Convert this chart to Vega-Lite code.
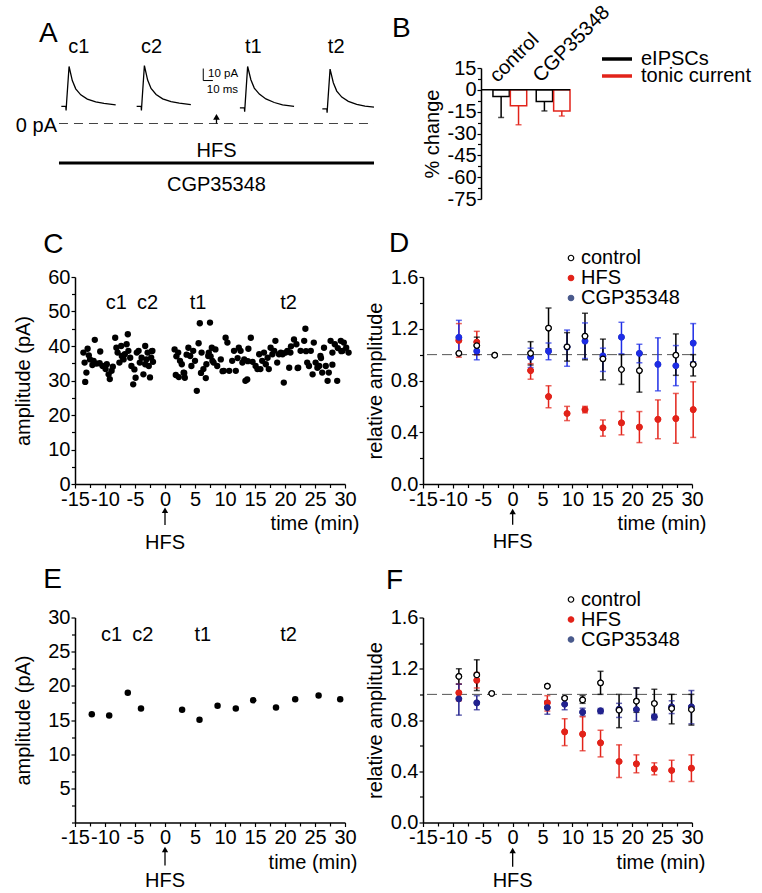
{
  "background": "white",
  "padding": {"left": 13, "top": 2, "right": 0, "bottom": 0},
  "config": {
    "font": "Liberation Sans",
    "view": {"stroke": null},
    "axis": {"labelFontSize": 20, "titleFontSize": 20, "titleFontWeight": "normal", "labelColor": "black", "titleColor": "black", "domainColor": "black", "tickColor": "black", "tickSize": 4, "domainWidth": 1.5, "tickWidth": 1.2, "grid": false, "labelPadding": 1, "labelOverlap": false, "labelFlush": false},
    "legend": {"labelFontSize": 20, "labelColor": "black"},
    "text": {"fontSize": 20, "color": "black"}
  },
  "spacing": 21,
  "vconcat": [
    {
      "bounds": "flush",
      "spacing": 107,
      "resolve": {"scale": {"stroke": "independent", "color": "independent"}, "legend": {"stroke": "independent", "color": "independent"}},
      "hconcat": [
        {
          "width": 299,
          "height": 131,
          "layer": [
            {
              "data": {"values": [
                {"trace": "c1", "ms": 2.6, "pA": 14.2}, {"trace": "c1", "ms": 7.6, "pA": 14.2}, {"trace": "c1", "ms": 7.9, "pA": 10.8}, {"trace": "c1", "ms": 8.6, "pA": 19.2}, {"trace": "c1", "ms": 11.2, "pA": 47.5}, {"trace": "c1", "ms": 14.8, "pA": 35.8}, {"trace": "c1", "ms": 18.6, "pA": 28.9}, {"trace": "c1", "ms": 24.2, "pA": 23.9}, {"trace": "c1", "ms": 31.5, "pA": 20.3}, {"trace": "c1", "ms": 40.8, "pA": 18.1}, {"trace": "c1", "ms": 50, "pA": 16.7}, {"trace": "c1", "ms": 63, "pA": 15.6},
                {"trace": "c2", "ms": 86.3, "pA": 14.2}, {"trace": "c2", "ms": 91.3, "pA": 14.2}, {"trace": "c2", "ms": 91.6, "pA": 10.8}, {"trace": "c2", "ms": 92.3, "pA": 19.2}, {"trace": "c2", "ms": 94.9, "pA": 48.3}, {"trace": "c2", "ms": 98.5, "pA": 36.2}, {"trace": "c2", "ms": 102.3, "pA": 29.2}, {"trace": "c2", "ms": 107.9, "pA": 24.2}, {"trace": "c2", "ms": 115.2, "pA": 20.5}, {"trace": "c2", "ms": 124.5, "pA": 18.2}, {"trace": "c2", "ms": 133.7, "pA": 16.9}, {"trace": "c2", "ms": 146.5, "pA": 15.8},
                {"trace": "t1", "ms": 201, "pA": 13.1}, {"trace": "t1", "ms": 206, "pA": 13.1}, {"trace": "t1", "ms": 206.3, "pA": 9.8}, {"trace": "t1", "ms": 207, "pA": 18}, {"trace": "t1", "ms": 209.6, "pA": 47.5}, {"trace": "t1", "ms": 213.2, "pA": 36.5}, {"trace": "t1", "ms": 217, "pA": 29.5}, {"trace": "t1", "ms": 222.6, "pA": 24.5}, {"trace": "t1", "ms": 229.9, "pA": 20.5}, {"trace": "t1", "ms": 239.2, "pA": 17.5}, {"trace": "t1", "ms": 248.4, "pA": 15.5}, {"trace": "t1", "ms": 261.2, "pA": 14.2},
                {"trace": "t2", "ms": 292.6, "pA": 12.2}, {"trace": "t2", "ms": 297.6, "pA": 12.2}, {"trace": "t2", "ms": 297.9, "pA": 9}, {"trace": "t2", "ms": 298.6, "pA": 17}, {"trace": "t2", "ms": 301.2, "pA": 45.3}, {"trace": "t2", "ms": 304.8, "pA": 34}, {"trace": "t2", "ms": 308.6, "pA": 27}, {"trace": "t2", "ms": 314.2, "pA": 22}, {"trace": "t2", "ms": 321.5, "pA": 18.5}, {"trace": "t2", "ms": 330.8, "pA": 16}, {"trace": "t2", "ms": 340, "pA": 14.5}, {"trace": "t2", "ms": 350, "pA": 13.6}
              ]},
              "mark": {"type": "line", "color": "black", "strokeWidth": 1.3},
              "encoding": {
                "x": {"field": "ms", "type": "quantitative", "scale": {"domain": [17.8, 350], "nice": false, "zero": false}, "axis": null},
                "y": {"field": "pA", "type": "quantitative", "scale": {"domain": [-62.9, 46.25], "nice": false, "zero": false}, "axis": null},
                "detail": {"field": "trace"}
              }
            },
            {
              "data": {"values": [{}]},
              "mark": {"type": "rule", "strokeDash": [9, 6], "strokeWidth": 1, "color": "#444"},
              "encoding": {"x": {"datum": 0}, "x2": {"datum": 350}, "y": {"datum": 0}}
            },
            {
              "data": {"values": [{}]},
              "mark": {"type": "text", "text": "0 pA", "align": "right", "baseline": "middle", "dx": -2, "dy": 2},
              "encoding": {"x": {"datum": 0}, "y": {"datum": 0}}
            },
            {
              "data": {"values": [{}]},
              "mark": {"type": "rule", "strokeWidth": 1.3, "color": "black"},
              "encoding": {"x": {"datum": 175}, "y": {"datum": 0}, "y2": {"datum": 5.5}}
            },
            {
              "data": {"values": [{}]},
              "mark": {"type": "point", "shape": "triangle-up", "filled": true, "size": 45, "color": "black", "opacity": 1},
              "encoding": {"x": {"datum": 175}, "y": {"datum": 5.5}}
            },
            {
              "data": {"values": [{}]},
              "mark": {"type": "text", "text": "HFS", "align": "center", "baseline": "middle"},
              "encoding": {"x": {"datum": 175}, "y": {"datum": -22.5}}
            },
            {
              "data": {"values": [{}]},
              "mark": {"type": "rule", "strokeWidth": 3, "color": "black"},
              "encoding": {"x": {"datum": 0}, "x2": {"datum": 350}, "y": {"datum": -33}}
            },
            {
              "data": {"values": [{}]},
              "mark": {"type": "text", "text": "CGP35348", "align": "center", "baseline": "middle"},
              "encoding": {"x": {"datum": 175}, "y": {"datum": -51.5}}
            },
            {
              "data": {"values": [{"label": "c1", "ms": 22}, {"label": "c2", "ms": 103}, {"label": "t1", "ms": 216}, {"label": "t2", "ms": 308}]},
              "mark": {"type": "text", "align": "center", "baseline": "middle"},
              "encoding": {"x": {"field": "ms", "type": "quantitative"}, "y": {"datum": 64}, "text": {"field": "label"}}
            },
            {
              "data": {"values": [{}]},
              "mark": {"type": "rule", "strokeWidth": 1, "color": "black"},
              "encoding": {"x": {"datum": 160.3}, "y": {"datum": 35.8}, "y2": {"datum": 45.8}}
            },
            {
              "data": {"values": [{}]},
              "mark": {"type": "rule", "strokeWidth": 1, "color": "black"},
              "encoding": {"x": {"datum": 160.3}, "x2": {"datum": 171}, "y": {"datum": 35.8}}
            },
            {
              "data": {"values": [{}]},
              "mark": {"type": "text", "text": "10 pA", "align": "left", "baseline": "middle", "fontSize": 11.5},
              "encoding": {"x": {"datum": 165.6}, "y": {"datum": 41.5}}
            },
            {
              "data": {"values": [{}]},
              "mark": {"type": "text", "text": "10 ms", "align": "right", "baseline": "middle", "fontSize": 11.5},
              "encoding": {"x": {"datum": 199}, "y": {"datum": 28}}
            },
            {
              "data": {"values": [{}]},
              "mark": {"type": "text", "text": "A", "align": "left", "baseline": "alphabetic", "fontSize": 28},
              "encoding": {"x": {"datum": -22.2}, "y": {"datum": 67.5}}
            }
          ]
        },
        {
          "width": 89,
          "height": 131,
          "title": {"text": "B", "anchor": "start", "frame": "group", "fontSize": 28, "fontWeight": "normal", "color": "black", "dx": -89, "offset": -63, "baseline": "alphabetic"},
          "resolve": {"axis": {"y": "independent"}},
          "layer": [
            {
              "layer": [
                {
                  "data": {"values": [
                    {"group": "control", "type": "eIPSCs", "value": -4.5, "lower": -19},
                    {"group": "control", "type": "tonic current", "value": -11, "lower": -24},
                    {"group": "CGP35348", "type": "eIPSCs", "value": -8, "lower": -14.5},
                    {"group": "CGP35348", "type": "tonic current", "value": -14.5, "lower": -18}
                  ]},
                  "resolve": {"scale": {"stroke": "independent"}, "legend": {"stroke": "independent"}},
                  "layer": [
                    {
                      "mark": {"type": "bar", "fill": "white", "strokeWidth": 1.5},
                      "encoding": {
                        "x": {"field": "group", "type": "nominal", "sort": ["control", "CGP35348"], "scale": {"paddingInner": 0.22, "paddingOuter": 0.138, "align": 1}, "axis": null},
                        "xOffset": {"field": "type", "type": "nominal", "sort": ["eIPSCs", "tonic current"], "scale": {"paddingInner": 0.06}},
                        "y": {"field": "value", "type": "quantitative", "scale": {"domain": [-75, 15], "nice": false}, "axis": {"values": [-75, -60, -45, -30, -15, 0, 15], "tickCount": 100, "labelExpr": "toString(datum.value)", "labelOverlap": false, "title": "% change", "titlePadding": 5}},
                        "stroke": {"field": "type", "type": "nominal", "scale": {"domain": ["eIPSCs", "tonic current"], "range": ["black", "#e2231a"]}, "legend": {"orient": "none", "legendX": 119, "legendY": -26, "values": ["eIPSCs"], "title": null, "symbolType": "stroke", "symbolSize": 900, "symbolStrokeWidth": 3.5, "labelOffset": 7, "labelFontSize": 20}}
                      }
                    },
                    {
                      "mark": {"type": "rule", "strokeWidth": 1.5},
                      "encoding": {
                        "x": {"field": "group", "type": "nominal", "sort": ["control", "CGP35348"]},
                        "xOffset": {"field": "type", "type": "nominal", "sort": ["eIPSCs", "tonic current"]},
                        "y": {"field": "value", "type": "quantitative"},
                        "y2": {"field": "lower"},
                        "stroke": {"field": "type", "type": "nominal", "scale": {"domain": ["eIPSCs", "tonic current"], "range": ["black", "#e2231a"]}, "legend": {"orient": "none", "legendX": 119, "legendY": -9, "values": ["tonic current"], "title": null, "symbolType": "stroke", "symbolSize": 900, "symbolStrokeWidth": 3.5, "labelOffset": 7, "labelFontSize": 20}}
                      }
                    },
                    {
                      "mark": {"type": "tick", "orient": "horizontal", "size": 6, "thickness": 1.5},
                      "encoding": {
                        "x": {"field": "group", "type": "nominal", "sort": ["control", "CGP35348"]},
                        "xOffset": {"field": "type", "type": "nominal", "sort": ["eIPSCs", "tonic current"]},
                        "y": {"field": "lower", "type": "quantitative"},
                        "color": {"field": "type", "type": "nominal", "scale": {"domain": ["eIPSCs", "tonic current"], "range": ["black", "#e2231a"]}, "legend": null}
                      }
                    }
                  ]
                },
                {
                  "data": {"values": [{}]},
                  "mark": {"type": "rule", "strokeWidth": 1.5, "color": "black"},
                  "encoding": {"y": {"datum": 0}}
                },
                {
                  "data": {"values": [{"group": "control"}, {"group": "CGP35348"}]},
                  "mark": {"type": "text", "angle": 315, "align": "left", "baseline": "alphabetic", "dx": -4.2, "dy": -13.4},
                  "encoding": {
                    "x": {"field": "group", "type": "nominal", "sort": ["control", "CGP35348"]},
                    "y": {"datum": 0},
                    "text": {"field": "group"}
                  }
                }
              ]
            },
            {
              "data": {"values": [{}]},
              "mark": {"type": "point", "opacity": 0, "size": 1},
              "encoding": {"y": {"datum": 0, "type": "quantitative", "axis": {"orient": "left", "values": [-67.5, -52.5, -37.5, -22.5, -7.5, 7.5], "tickCount": 100, "labels": false, "domain": false, "title": null, "tickSize": 3.5}}}
            }
          ]
        }
      ]
    },
    {
      "bounds": "flush",
      "columns": 2,
      "spacing": {"row": 133.5, "column": 78},
      "concat": [
        {
          "width": 270,
          "height": 207,
          "resolve": {"axis": {"x": "independent", "y": "independent"}},
          "layer": [
            {
              "layer": [
                {
                  "data": {"values": [
                    {"t": -13.6, "amp": 38.1}, {"t": -12.9, "amp": 39.2}, {"t": -12.7, "amp": 37.3}, {"t": -13.4, "amp": 35.2}, {"t": -13.1, "amp": 32.3}, {"t": -13.3, "amp": 29.6}, {"t": -12.5, "amp": 36.1}, {"t": -11.9, "amp": 35.7}, {"t": -11.7, "amp": 41.8}, {"t": -11.4, "amp": 34.9}, {"t": -10.8, "amp": 38.4}, {"t": -10.4, "amp": 34.2}, {"t": -9.9, "amp": 33.3}, {"t": -9.7, "amp": 34.7}, {"t": -9.4, "amp": 31.8}, {"t": -9.2, "amp": 30.4}, {"t": -8.9, "amp": 32.8}, {"t": -8.3, "amp": 42.4}, {"t": -8.1, "amp": 39.5}, {"t": -7.9, "amp": 38.1}, {"t": -7.6, "amp": 35.2}, {"t": -7.3, "amp": 40.0}, {"t": -7.2, "amp": 37.1}, {"t": -6.9, "amp": 36.1}, {"t": -6.7, "amp": 37.6}, {"t": -6.4, "amp": 40.5}, {"t": -6.2, "amp": 43.4}, {"t": -6.1, "amp": 38.6}, {"t": -5.8, "amp": 36.6}, {"t": -5.6, "amp": 34.2}, {"t": -5.3, "amp": 28.9}, {"t": -5.1, "amp": 33.2}, {"t": -4.9, "amp": 30.8}, {"t": -4.7, "amp": 38.1}, {"t": -4.4, "amp": 38.6}, {"t": -4.2, "amp": 35.2}, {"t": -3.9, "amp": 36.6}, {"t": -3.6, "amp": 31.8}, {"t": -3.3, "amp": 34.7}, {"t": -3.1, "amp": 36.1}, {"t": -2.9, "amp": 38.1}, {"t": -2.7, "amp": 34.2}, {"t": -2.3, "amp": 36.6}, {"t": -2.1, "amp": 38.6}, {"t": -3.3, "amp": 40.0}, {"t": -2.0, "amp": 35.4}, {"t": -2.5, "amp": 30.9}, {"t": -2.2, "amp": 38.5}, {"t": -12.1, "amp": 34.5}, {"t": -10.9, "amp": 35.0}, {"t": -8.7, "amp": 34.0}, {"t": -7.0, "amp": 36.5},
                    {"t": 1.6, "amp": 39.0}, {"t": 2.2, "amp": 38.1}, {"t": 2.5, "amp": 35.7}, {"t": 2.8, "amp": 34.7}, {"t": 3.1, "amp": 32.3}, {"t": 3.3, "amp": 30.8}, {"t": 3.9, "amp": 39.5}, {"t": 4.2, "amp": 37.1}, {"t": 4.4, "amp": 34.2}, {"t": 4.7, "amp": 38.6}, {"t": 5.0, "amp": 35.7}, {"t": 5.3, "amp": 27.0}, {"t": 5.6, "amp": 40.8}, {"t": 5.8, "amp": 46.6}, {"t": 6.1, "amp": 38.1}, {"t": 6.4, "amp": 33.3}, {"t": 6.9, "amp": 34.7}, {"t": 7.2, "amp": 37.1}, {"t": 7.5, "amp": 46.8}, {"t": 7.8, "amp": 39.5}, {"t": 8.1, "amp": 35.2},
                    {"t": 7.3, "amp": 38.1}, {"t": 7.9, "amp": 35.7}, {"t": 8.4, "amp": 39.0}, {"t": 8.7, "amp": 34.2}, {"t": 9.3, "amp": 36.1}, {"t": 9.8, "amp": 32.8}, {"t": 10.1, "amp": 42.4}, {"t": 10.4, "amp": 41.0}, {"t": 10.7, "amp": 32.8}, {"t": 11.2, "amp": 35.7}, {"t": 11.5, "amp": 38.6}, {"t": 11.8, "amp": 32.8}, {"t": 12.3, "amp": 39.5}, {"t": 12.6, "amp": 38.6}, {"t": 12.9, "amp": 35.2}, {"t": 13.2, "amp": 36.1}, {"t": 13.4, "amp": 29.9}, {"t": 13.7, "amp": 30.3}, {"t": 13.9, "amp": 39.2}, {"t": 14.3, "amp": 42.4}, {"t": 14.6, "amp": 35.4}, {"t": 15.1, "amp": 34.2}, {"t": 15.4, "amp": 33.3}, {"t": 15.7, "amp": 37.6}, {"t": 15.9, "amp": 33.3}, {"t": 16.2, "amp": 35.7}, {"t": 16.5, "amp": 38.1}, {"t": 16.8, "amp": 34.7}, {"t": 17.1, "amp": 36.6}, {"t": 17.3, "amp": 33.3}, {"t": 17.6, "amp": 39.5}, {"t": 17.9, "amp": 37.6}, {"t": 18.2, "amp": 38.6}, {"t": 18.4, "amp": 41.5}, {"t": 18.7, "amp": 35.2}, {"t": 19.0, "amp": 37.6}, {"t": 19.3, "amp": 38.1}, {"t": 19.6, "amp": 37.6}, {"t": 19.8, "amp": 29.4}, {"t": 20.1, "amp": 38.1}, {"t": 20.4, "amp": 38.6}, {"t": 20.7, "amp": 33.7}, {"t": 20.9, "amp": 38.1}, {"t": 21.5, "amp": 41.9}, {"t": 21.9, "amp": 40.5}, {"t": 22.2, "amp": 33.7}, {"t": 22.6, "amp": 38.6}, {"t": 23.2, "amp": 41.5}, {"t": 23.4, "amp": 45.0}, {"t": 23.7, "amp": 35.2}, {"t": 24.0, "amp": 34.2}, {"t": 24.3, "amp": 38.6}, {"t": 24.6, "amp": 31.8}, {"t": 24.8, "amp": 41.0}, {"t": 25.1, "amp": 35.2}, {"t": 25.4, "amp": 33.7}, {"t": 25.7, "amp": 34.2}, {"t": 25.9, "amp": 37.1}, {"t": 26.2, "amp": 32.3}, {"t": 26.5, "amp": 39.5}, {"t": 26.8, "amp": 34.2}, {"t": 27.1, "amp": 29.9}, {"t": 27.3, "amp": 32.3}, {"t": 27.6, "amp": 41.5}, {"t": 27.9, "amp": 38.1}, {"t": 28.3, "amp": 40.5}, {"t": 28.7, "amp": 29.9}, {"t": 29.3, "amp": 41.5}, {"t": 29.6, "amp": 38.6}, {"t": 29.8, "amp": 41.0}, {"t": 30.2, "amp": 39.5}, {"t": 30.6, "amp": 38.1},
                    {"t": 1.9, "amp": 37.0}, {"t": 3.6, "amp": 37.5}, {"t": 3.2, "amp": 32.2}, {"t": 6.0, "amp": 32.2}, {"t": 6.8, "amp": 30.7}, {"t": 7.6, "amp": 37.0}, {"t": 9.6, "amp": 32.7}, {"t": 12.1, "amp": 36.5}, {"t": 13.8, "amp": 35.6}, {"t": 21.0, "amp": 39.9}, {"t": 22.1, "amp": 33.6}, {"t": 23.5, "amp": 38.5}, {"t": 26.0, "amp": 36.5}, {"t": 27.9, "amp": 34.6}, {"t": 28.8, "amp": 39.4}, {"t": 29.4, "amp": 38.5}, {"t": 1.8, "amp": 31.6}, {"t": 2.3, "amp": 31.0}
                  ]},
                  "mark": {"type": "circle", "size": 40, "color": "black", "opacity": 1},
                  "encoding": {
                    "x": {"field": "t", "type": "quantitative", "scale": {"domain": [-15, 30], "nice": false, "zero": false}, "axis": {"values": [-15, -10, -5, 0, 5, 10, 15, 20, 25, 30], "tickCount": 100, "labelExpr": "toString(datum.value)", "labelOverlap": false, "title": "time (min)", "titleX": 284, "titleY": 39, "titleAlign": "right", "titleBaseline": "middle"}},
                    "y": {"field": "amp", "type": "quantitative", "scale": {"domain": [0, 60], "nice": false}, "axis": {"values": [0, 10, 20, 30, 40, 50, 60], "tickCount": 100, "labelExpr": "toString(datum.value)", "labelOverlap": false, "title": "amplitude (pA)", "titlePadding": 14}}
                  }
                },
                {
                  "data": {"values": [{"label": "c1", "t": -8.1}, {"label": "c2", "t": -2.9}, {"label": "t1", "t": 5.5}, {"label": "t2", "t": 20.6}]},
                  "mark": {"type": "text", "align": "center", "baseline": "middle"},
                  "encoding": {"x": {"field": "t", "type": "quantitative"}, "y": {"datum": 52.5}, "text": {"field": "label"}}
                },
                {
                  "data": {"values": [{}]},
                  "mark": {"type": "rule", "strokeWidth": 1.3, "color": "black"},
                  "encoding": {"x": {"datum": 0}, "y": {"datum": -7.6}, "y2": {"datum": -11.9}}
                },
                {
                  "data": {"values": [{}]},
                  "mark": {"type": "point", "shape": "triangle-up", "filled": true, "size": 40, "color": "black", "opacity": 1},
                  "encoding": {"x": {"datum": 0}, "y": {"datum": -7.6}}
                },
                {
                  "data": {"values": [{}]},
                  "mark": {"type": "text", "text": "HFS", "align": "center", "baseline": "middle"},
                  "encoding": {"x": {"datum": 0}, "y": {"datum": -17}}
                },
                {
                  "data": {"values": [{}]},
                  "mark": {"type": "text", "text": "C", "align": "left", "baseline": "alphabetic", "fontSize": 28},
                  "encoding": {"x": {"datum": -20.3}, "y": {"datum": 67}}
                }
              ]
            },
            {
              "data": {"values": [{}]},
              "mark": {"type": "point", "opacity": 0, "size": 1},
              "encoding": {
                "x": {"datum": 0, "type": "quantitative", "axis": {"orient": "bottom", "values": [-12.5, -7.5, -2.5, 2.5, 7.5, 12.5, 17.5, 22.5, 27.5], "tickCount": 100, "labels": false, "domain": false, "title": null, "tickSize": 3.5}},
                "y": {"datum": 0, "type": "quantitative", "axis": {"orient": "left", "values": [5, 15, 25, 35, 45, 55], "tickCount": 100, "labels": false, "domain": false, "title": null, "tickSize": 3.5}}
              }
            }
          ]
        },
        {
          "width": 269,
          "height": 207,
          "resolve": {"axis": {"x": "independent", "y": "independent"}},
          "layer": [
            {
              "resolve": {"scale": {"fill": "independent", "stroke": "independent", "color": "independent"}},
              "layer": [
                {
                  "data": {"values": [{}]},
                  "mark": {"type": "rule", "strokeDash": [10, 5], "strokeWidth": 1, "color": "#555"},
                  "encoding": {"y": {"datum": 1}}
                },
                {
                  "data": {"name": "D"},
                  "mark": {"type": "point", "filled": true, "size": 30, "strokeWidth": 1.2, "opacity": 1},
                  "encoding": {
                    "x": {"field": "time", "type": "quantitative", "scale": {"domain": [-15, 30], "nice": false, "zero": false}, "axis": {"values": [-15, -10, -5, 0, 5, 10, 15, 20, 25, 30], "tickCount": 100, "labelExpr": "toString(datum.value)", "labelOverlap": false, "title": "time (min)", "titleX": 283, "titleY": 39, "titleAlign": "right", "titleBaseline": "middle"}},
                    "y": {"field": "value", "type": "quantitative", "scale": {"domain": [0, 1.6], "nice": false}, "axis": {"values": [0, 0.4, 0.8, 1.2, 1.6], "tickCount": 100, "labelExpr": "format(datum.value, '.1f')", "labelOverlap": false, "title": "relative amplitude", "titlePadding": 5}},
                    "fill": {"field": "group", "type": "nominal", "scale": {"domain": ["control", "HFS", "CGP35348"], "range": ["white", "#e2231a", "#4a5a8c"]}, "legend": {"orient": "none", "legendX": 138, "legendY": -29, "title": null, "symbolSize": 30, "symbolStrokeWidth": 1.2, "rowPadding": 0, "labelOffset": 0, "labelFontSize": 20}},
                    "stroke": {"field": "group", "type": "nominal", "scale": {"domain": ["control", "HFS", "CGP35348"], "range": ["black", "#e2231a", "#4a5a8c"]}, "legend": {"orient": "none", "legendX": 138, "legendY": -29, "title": null, "symbolSize": 30, "symbolStrokeWidth": 1.2, "rowPadding": 0, "labelOffset": 0, "labelFontSize": 20}}
                  }
                },
                {
                  "data": {"name": "D"},
                  "transform": [{"filter": "isValid(datum.lo)"}],
                  "mark": {"type": "rule", "strokeWidth": 1.5},
                  "encoding": {
                    "x": {"field": "time", "type": "quantitative"},
                    "y": {"field": "lo", "type": "quantitative"},
                    "y2": {"field": "hi"},
                    "stroke": {"field": "group", "type": "nominal", "scale": {"domain": ["control", "HFS", "CGP35348"], "range": ["black", "#e2231a", "#1e2de6"]}, "legend": null}
                  }
                },
                {
                  "data": {"name": "D"},
                  "transform": [{"filter": "isValid(datum.lo)"}],
                  "mark": {"type": "tick", "orient": "horizontal", "size": 6, "thickness": 1.5},
                  "encoding": {
                    "x": {"field": "time", "type": "quantitative"},
                    "y": {"field": "lo", "type": "quantitative"},
                    "color": {"field": "group", "type": "nominal", "scale": {"domain": ["control", "HFS", "CGP35348"], "range": ["black", "#e2231a", "#1e2de6"]}, "legend": null}
                  }
                },
                {
                  "data": {"name": "D"},
                  "transform": [{"filter": "isValid(datum.hi)"}],
                  "mark": {"type": "tick", "orient": "horizontal", "size": 6, "thickness": 1.5},
                  "encoding": {
                    "x": {"field": "time", "type": "quantitative"},
                    "y": {"field": "hi", "type": "quantitative"},
                    "color": {"field": "group", "type": "nominal", "scale": {"domain": ["control", "HFS", "CGP35348"], "range": ["black", "#e2231a", "#1e2de6"]}, "legend": null}
                  }
                },
                {
                  "data": {"name": "D"},
                  "mark": {"type": "point", "filled": true, "size": 30, "strokeWidth": 1.2, "opacity": 1},
                  "encoding": {
                    "x": {"field": "time", "type": "quantitative"},
                    "y": {"field": "value", "type": "quantitative"},
                    "fill": {"field": "group", "type": "nominal", "scale": {"domain": ["control", "HFS", "CGP35348"], "range": ["white", "#e2231a", "#1e2de6"]}, "legend": null},
                    "stroke": {"field": "group", "type": "nominal", "scale": {"domain": ["control", "HFS", "CGP35348"], "range": ["black", "#e2231a", "#1e2de6"]}, "legend": null}
                  }
                },
                {
                  "data": {"values": [{}]},
                  "mark": {"type": "rule", "strokeWidth": 1.3, "color": "black"},
                  "encoding": {"x": {"datum": 0}, "y": {"datum": -0.213}, "y2": {"datum": -0.315}}
                },
                {
                  "data": {"values": [{}]},
                  "mark": {"type": "point", "shape": "triangle-up", "filled": true, "size": 40, "color": "black", "opacity": 1},
                  "encoding": {"x": {"datum": 0}, "y": {"datum": -0.213}}
                },
                {
                  "data": {"values": [{}]},
                  "mark": {"type": "text", "text": "HFS", "align": "center", "baseline": "middle"},
                  "encoding": {"x": {"datum": 0}, "y": {"datum": -0.452}}
                },
                {
                  "data": {"values": [{}]},
                  "mark": {"type": "text", "text": "D", "align": "left", "baseline": "alphabetic", "fontSize": 28},
                  "encoding": {"x": {"datum": -20.7}, "y": {"datum": 1.79}}
                }
              ]
            },
            {
              "data": {"values": [{}]},
              "mark": {"type": "point", "opacity": 0, "size": 1},
              "encoding": {
                "x": {"datum": 0, "type": "quantitative", "axis": {"orient": "bottom", "values": [-12.5, -7.5, -2.5, 2.5, 7.5, 12.5, 17.5, 22.5, 27.5], "tickCount": 100, "labels": false, "domain": false, "title": null, "tickSize": 3.5}},
                "y": {"datum": 0, "type": "quantitative", "axis": {"orient": "left", "values": [0.2, 0.6, 1.0, 1.4], "tickCount": 100, "labels": false, "domain": false, "title": null, "tickSize": 3.5}}
              }
            }
          ]
        },
        {
          "width": 270,
          "height": 205,
          "resolve": {"axis": {"x": "independent", "y": "independent"}},
          "layer": [
            {
              "layer": [
                {
                  "data": {"values": [
                    {"t": -12.2, "amp": 15.85}, {"t": -9.3, "amp": 15.66}, {"t": -6.2, "amp": 18.98}, {"t": -4.0, "amp": 16.68}, {"t": 2.85, "amp": 16.49}, {"t": 5.75, "amp": 15.02}, {"t": 8.76, "amp": 17.07}, {"t": 11.8, "amp": 16.68}, {"t": 14.7, "amp": 17.9}, {"t": 18.5, "amp": 16.83}, {"t": 21.7, "amp": 18.05}, {"t": 25.6, "amp": 18.59}, {"t": 29.2, "amp": 18.05}
                  ]},
                  "mark": {"type": "circle", "size": 42, "color": "black", "opacity": 1},
                  "encoding": {
                    "x": {"field": "t", "type": "quantitative", "scale": {"domain": [-15, 30], "nice": false, "zero": false}, "axis": {"values": [-15, -10, -5, 0, 5, 10, 15, 20, 25, 30], "tickCount": 100, "labelExpr": "toString(datum.value)", "labelOverlap": false, "title": "time (min)", "titleX": 282, "titleY": 40, "titleAlign": "right", "titleBaseline": "middle"}},
                    "y": {"field": "amp", "type": "quantitative", "scale": {"domain": [0, 30], "nice": false}, "axis": {"values": [5, 10, 15, 20, 25, 30], "tickCount": 100, "labelExpr": "toString(datum.value)", "labelOverlap": false, "title": "amplitude (pA)", "titlePadding": 14}}
                  }
                },
                {
                  "data": {"values": [{"label": "c1", "t": -8.9}, {"label": "c2", "t": -3.7}, {"label": "t1", "t": 6.3}, {"label": "t2", "t": 20.6}]},
                  "mark": {"type": "text", "align": "center", "baseline": "middle"},
                  "encoding": {"x": {"field": "t", "type": "quantitative"}, "y": {"datum": 27.5}, "text": {"field": "label"}}
                },
                {
                  "data": {"values": [{}]},
                  "mark": {"type": "rule", "strokeWidth": 1.3, "color": "black"},
                  "encoding": {"x": {"datum": 0}, "y": {"datum": -3.95}, "y2": {"datum": -6.3}}
                },
                {
                  "data": {"values": [{}]},
                  "mark": {"type": "point", "shape": "triangle-up", "filled": true, "size": 40, "color": "black", "opacity": 1},
                  "encoding": {"x": {"datum": 0}, "y": {"datum": -3.95}}
                },
                {
                  "data": {"values": [{}]},
                  "mark": {"type": "text", "text": "HFS", "align": "center", "baseline": "middle"},
                  "encoding": {"x": {"datum": 0}, "y": {"datum": -8.5}}
                },
                {
                  "data": {"values": [{}]},
                  "mark": {"type": "text", "text": "E", "align": "left", "baseline": "alphabetic", "fontSize": 28},
                  "encoding": {"x": {"datum": -20.3}, "y": {"datum": 34.3}}
                }
              ]
            },
            {
              "data": {"values": [{}]},
              "mark": {"type": "point", "opacity": 0, "size": 1},
              "encoding": {
                "x": {"datum": 0, "type": "quantitative", "axis": {"orient": "bottom", "values": [-12.5, -7.5, -2.5, 2.5, 7.5, 12.5, 17.5, 22.5, 27.5], "tickCount": 100, "labels": false, "domain": false, "title": null, "tickSize": 3.5}},
                "y": {"datum": 0, "type": "quantitative", "axis": {"orient": "left", "values": [0, 2.5, 7.5, 12.5, 17.5, 22.5, 27.5], "tickCount": 100, "labels": false, "domain": false, "title": null, "tickSize": 3.5}}
              }
            }
          ]
        },
        {
          "width": 269,
          "height": 205,
          "resolve": {"axis": {"x": "independent", "y": "independent"}},
          "layer": [
            {
              "resolve": {"scale": {"fill": "independent", "stroke": "independent", "color": "independent"}},
              "layer": [
                {
                  "data": {"values": [{}]},
                  "mark": {"type": "rule", "strokeDash": [10, 5], "strokeWidth": 1, "color": "#555"},
                  "encoding": {"y": {"datum": 1}}
                },
                {
                  "data": {"name": "F"},
                  "mark": {"type": "point", "filled": true, "size": 30, "strokeWidth": 1.2, "opacity": 1},
                  "encoding": {
                    "x": {"field": "time", "type": "quantitative", "scale": {"domain": [-15, 30], "nice": false, "zero": false}, "axis": {"values": [-15, -10, -5, 0, 5, 10, 15, 20, 25, 30], "tickCount": 100, "labelExpr": "toString(datum.value)", "labelOverlap": false, "title": "time (min)", "titleX": 282, "titleY": 40, "titleAlign": "right", "titleBaseline": "middle"}},
                    "y": {"field": "value", "type": "quantitative", "scale": {"domain": [0, 1.6], "nice": false}, "axis": {"values": [0, 0.4, 0.8, 1.2, 1.6], "tickCount": 100, "labelExpr": "format(datum.value, '.1f')", "labelOverlap": false, "title": "relative amplitude", "titlePadding": 5}},
                    "fill": {"field": "group", "type": "nominal", "scale": {"domain": ["control", "HFS", "CGP35348"], "range": ["white", "#e2231a", "#4a5a8c"]}, "legend": {"orient": "none", "legendX": 138, "legendY": -28, "title": null, "symbolSize": 30, "symbolStrokeWidth": 1.2, "rowPadding": 0, "labelOffset": 0, "labelFontSize": 20}},
                    "stroke": {"field": "group", "type": "nominal", "scale": {"domain": ["control", "HFS", "CGP35348"], "range": ["black", "#e2231a", "#4a5a8c"]}, "legend": {"orient": "none", "legendX": 138, "legendY": -28, "title": null, "symbolSize": 30, "symbolStrokeWidth": 1.2, "rowPadding": 0, "labelOffset": 0, "labelFontSize": 20}}
                  }
                },
                {
                  "data": {"name": "F"},
                  "transform": [{"filter": "isValid(datum.lo)"}],
                  "mark": {"type": "rule", "strokeWidth": 1.5},
                  "encoding": {
                    "x": {"field": "time", "type": "quantitative"},
                    "y": {"field": "lo", "type": "quantitative"},
                    "y2": {"field": "hi"},
                    "stroke": {"field": "group", "type": "nominal", "scale": {"domain": ["control", "HFS", "CGP35348"], "range": ["black", "#e2231a", "#22228f"]}, "legend": null}
                  }
                },
                {
                  "data": {"name": "F"},
                  "transform": [{"filter": "isValid(datum.lo)"}],
                  "mark": {"type": "tick", "orient": "horizontal", "size": 6, "thickness": 1.5},
                  "encoding": {
                    "x": {"field": "time", "type": "quantitative"},
                    "y": {"field": "lo", "type": "quantitative"},
                    "color": {"field": "group", "type": "nominal", "scale": {"domain": ["control", "HFS", "CGP35348"], "range": ["black", "#e2231a", "#22228f"]}, "legend": null}
                  }
                },
                {
                  "data": {"name": "F"},
                  "transform": [{"filter": "isValid(datum.hi)"}],
                  "mark": {"type": "tick", "orient": "horizontal", "size": 6, "thickness": 1.5},
                  "encoding": {
                    "x": {"field": "time", "type": "quantitative"},
                    "y": {"field": "hi", "type": "quantitative"},
                    "color": {"field": "group", "type": "nominal", "scale": {"domain": ["control", "HFS", "CGP35348"], "range": ["black", "#e2231a", "#22228f"]}, "legend": null}
                  }
                },
                {
                  "data": {"name": "F"},
                  "mark": {"type": "point", "filled": true, "size": 30, "strokeWidth": 1.2, "opacity": 1},
                  "encoding": {
                    "x": {"field": "time", "type": "quantitative"},
                    "y": {"field": "value", "type": "quantitative"},
                    "fill": {"field": "group", "type": "nominal", "scale": {"domain": ["control", "HFS", "CGP35348"], "range": ["white", "#e2231a", "#22228f"]}, "legend": null},
                    "stroke": {"field": "group", "type": "nominal", "scale": {"domain": ["control", "HFS", "CGP35348"], "range": ["black", "#e2231a", "#22228f"]}, "legend": null}
                  }
                },
                {
                  "data": {"values": [{}]},
                  "mark": {"type": "rule", "strokeWidth": 1.3, "color": "black"},
                  "encoding": {"x": {"datum": 0}, "y": {"datum": -0.218}, "y2": {"datum": -0.346}}
                },
                {
                  "data": {"values": [{}]},
                  "mark": {"type": "point", "shape": "triangle-up", "filled": true, "size": 40, "color": "black", "opacity": 1},
                  "encoding": {"x": {"datum": 0}, "y": {"datum": -0.218}}
                },
                {
                  "data": {"values": [{}]},
                  "mark": {"type": "text", "text": "HFS", "align": "center", "baseline": "middle"},
                  "encoding": {"x": {"datum": 0}, "y": {"datum": -0.455}}
                },
                {
                  "data": {"values": [{}]},
                  "mark": {"type": "text", "text": "F", "align": "left", "baseline": "alphabetic", "fontSize": 28},
                  "encoding": {"x": {"datum": -21.2}, "y": {"datum": 1.824}}
                }
              ]
            },
            {
              "data": {"values": [{}]},
              "mark": {"type": "point", "opacity": 0, "size": 1},
              "encoding": {
                "x": {"datum": 0, "type": "quantitative", "axis": {"orient": "bottom", "values": [-12.5, -7.5, -2.5, 2.5, 7.5, 12.5, 17.5, 22.5, 27.5], "tickCount": 100, "labels": false, "domain": false, "title": null, "tickSize": 3.5}},
                "y": {"datum": 0, "type": "quantitative", "axis": {"orient": "left", "values": [0.2, 0.6, 1.0, 1.4], "tickCount": 100, "labels": false, "domain": false, "title": null, "tickSize": 3.5}}
              }
            }
          ]
        }
      ]
    }
  ],
  "datasets": {
    "D": [
      {"group": "HFS", "time": -9, "value": 1.11, "lo": 0.98, "hi": 1.24},
      {"group": "HFS", "time": -6, "value": 1.097, "lo": 1.0, "hi": 1.18},
      {"group": "HFS", "time": 3, "value": 0.877, "lo": 0.81, "hi": 0.93},
      {"group": "HFS", "time": 6, "value": 0.676, "lo": 0.59, "hi": 0.76},
      {"group": "HFS", "time": 9.1, "value": 0.545, "lo": 0.49, "hi": 0.6},
      {"group": "HFS", "time": 12.1, "value": 0.575, "lo": 0.55, "hi": 0.6},
      {"group": "HFS", "time": 15.1, "value": 0.434, "lo": 0.37, "hi": 0.495},
      {"group": "HFS", "time": 18.2, "value": 0.472, "lo": 0.38, "hi": 0.56},
      {"group": "HFS", "time": 21.2, "value": 0.44, "lo": 0.32, "hi": 0.56},
      {"group": "HFS", "time": 24.3, "value": 0.5, "lo": 0.35, "hi": 0.65},
      {"group": "HFS", "time": 27.3, "value": 0.506, "lo": 0.315, "hi": 0.7},
      {"group": "HFS", "time": 30.2, "value": 0.575, "lo": 0.36, "hi": 0.79},
      {"group": "CGP35348", "time": -9, "value": 1.133, "lo": 1.006, "hi": 1.265},
      {"group": "CGP35348", "time": -6, "value": 1.027, "lo": 0.96, "hi": 1.1},
      {"group": "CGP35348", "time": 3, "value": 0.98, "lo": 0.9, "hi": 1.05},
      {"group": "CGP35348", "time": 6, "value": 1.027, "lo": 0.96, "hi": 1.09},
      {"group": "CGP35348", "time": 9.1, "value": 1.058, "lo": 0.91, "hi": 1.19},
      {"group": "CGP35348", "time": 12.1, "value": 1.105, "lo": 0.97, "hi": 1.245},
      {"group": "CGP35348", "time": 15.1, "value": 0.99, "lo": 0.87, "hi": 1.05},
      {"group": "CGP35348", "time": 18.2, "value": 1.135, "lo": 1.006, "hi": 1.25},
      {"group": "CGP35348", "time": 21.2, "value": 1.01, "lo": 0.937, "hi": 1.08},
      {"group": "CGP35348", "time": 24.3, "value": 0.924, "lo": 0.72, "hi": 1.13},
      {"group": "CGP35348", "time": 27.3, "value": 0.914, "lo": 0.76, "hi": 1.07},
      {"group": "CGP35348", "time": 30.2, "value": 1.089, "lo": 0.945, "hi": 1.24},
      {"group": "control", "time": -9, "value": 1.01, "lo": null, "hi": null},
      {"group": "control", "time": -6, "value": 1.07, "lo": 1.0, "hi": 1.135},
      {"group": "control", "time": -3, "value": 0.996, "lo": null, "hi": null},
      {"group": "control", "time": 3, "value": 1.01, "lo": 0.92, "hi": 1.1},
      {"group": "control", "time": 6, "value": 1.205, "lo": 1.045, "hi": 1.36},
      {"group": "control", "time": 9.1, "value": 1.06, "lo": 0.95, "hi": 1.17},
      {"group": "control", "time": 12.1, "value": 1.143, "lo": 0.96, "hi": 1.32},
      {"group": "control", "time": 15.1, "value": 0.968, "lo": 0.805, "hi": 1.12},
      {"group": "control", "time": 18.2, "value": 0.885, "lo": 0.77, "hi": 1.0},
      {"group": "control", "time": 21.2, "value": 0.877, "lo": 0.71, "hi": 1.01},
      {"group": "control", "time": 27.3, "value": 0.996, "lo": 0.84, "hi": 1.16},
      {"group": "control", "time": 30.2, "value": 0.924, "lo": 0.835, "hi": 1.0}
    ],
    "F": [
      {"group": "HFS", "time": -9, "value": 1.012, "lo": 0.95, "hi": 1.08},
      {"group": "HFS", "time": -6, "value": 1.11, "lo": 1.05, "hi": 1.17},
      {"group": "HFS", "time": 5.8, "value": 0.934, "lo": 0.87, "hi": 0.99},
      {"group": "HFS", "time": 8.7, "value": 0.708, "lo": 0.6, "hi": 0.81},
      {"group": "HFS", "time": 11.7, "value": 0.69, "lo": 0.56, "hi": 0.825},
      {"group": "HFS", "time": 14.7, "value": 0.622, "lo": 0.512, "hi": 0.72},
      {"group": "HFS", "time": 17.8, "value": 0.476, "lo": 0.351, "hi": 0.606},
      {"group": "HFS", "time": 20.7, "value": 0.458, "lo": 0.388, "hi": 0.528},
      {"group": "HFS", "time": 23.7, "value": 0.419, "lo": 0.372, "hi": 0.466},
      {"group": "HFS", "time": 26.6, "value": 0.406, "lo": 0.32, "hi": 0.486},
      {"group": "HFS", "time": 29.9, "value": 0.424, "lo": 0.32, "hi": 0.528},
      {"group": "CGP35348", "time": -9, "value": 0.965, "lo": 0.838, "hi": 1.08},
      {"group": "CGP35348", "time": -6, "value": 0.934, "lo": 0.88, "hi": 0.99},
      {"group": "CGP35348", "time": 5.8, "value": 0.897, "lo": 0.845, "hi": 0.95},
      {"group": "CGP35348", "time": 8.7, "value": 0.923, "lo": 0.88, "hi": 0.968},
      {"group": "CGP35348", "time": 11.7, "value": 0.861, "lo": 0.832, "hi": 0.892},
      {"group": "CGP35348", "time": 14.7, "value": 0.871, "lo": 0.85, "hi": 0.89},
      {"group": "CGP35348", "time": 17.8, "value": 0.885, "lo": 0.82, "hi": 0.93},
      {"group": "CGP35348", "time": 20.7, "value": 0.882, "lo": 0.79, "hi": 1.05},
      {"group": "CGP35348", "time": 23.7, "value": 0.825, "lo": 0.8, "hi": 0.845},
      {"group": "CGP35348", "time": 26.6, "value": 0.903, "lo": 0.85, "hi": 0.95},
      {"group": "CGP35348", "time": 29.9, "value": 0.903, "lo": 0.77, "hi": 1.03},
      {"group": "control", "time": -9, "value": 1.14, "lo": 1.08, "hi": 1.2},
      {"group": "control", "time": -6, "value": 1.152, "lo": 1.03, "hi": 1.27},
      {"group": "control", "time": -3.5, "value": 1.007, "lo": null, "hi": null},
      {"group": "control", "time": 5.8, "value": 1.064, "lo": null, "hi": null},
      {"group": "control", "time": 8.7, "value": 0.97, "lo": null, "hi": null},
      {"group": "control", "time": 11.7, "value": 0.957, "lo": 0.93, "hi": 0.99},
      {"group": "control", "time": 14.7, "value": 1.09, "lo": 1.0, "hi": 1.18},
      {"group": "control", "time": 17.8, "value": 0.877, "lo": 0.74, "hi": 1.0},
      {"group": "control", "time": 20.7, "value": 0.947, "lo": 0.86, "hi": 1.05},
      {"group": "control", "time": 23.7, "value": 0.929, "lo": 0.82, "hi": 1.04},
      {"group": "control", "time": 26.6, "value": 0.89, "lo": 0.77, "hi": 1.0},
      {"group": "control", "time": 29.9, "value": 0.882, "lo": 0.76, "hi": 1.0}
    ]
  }
}
